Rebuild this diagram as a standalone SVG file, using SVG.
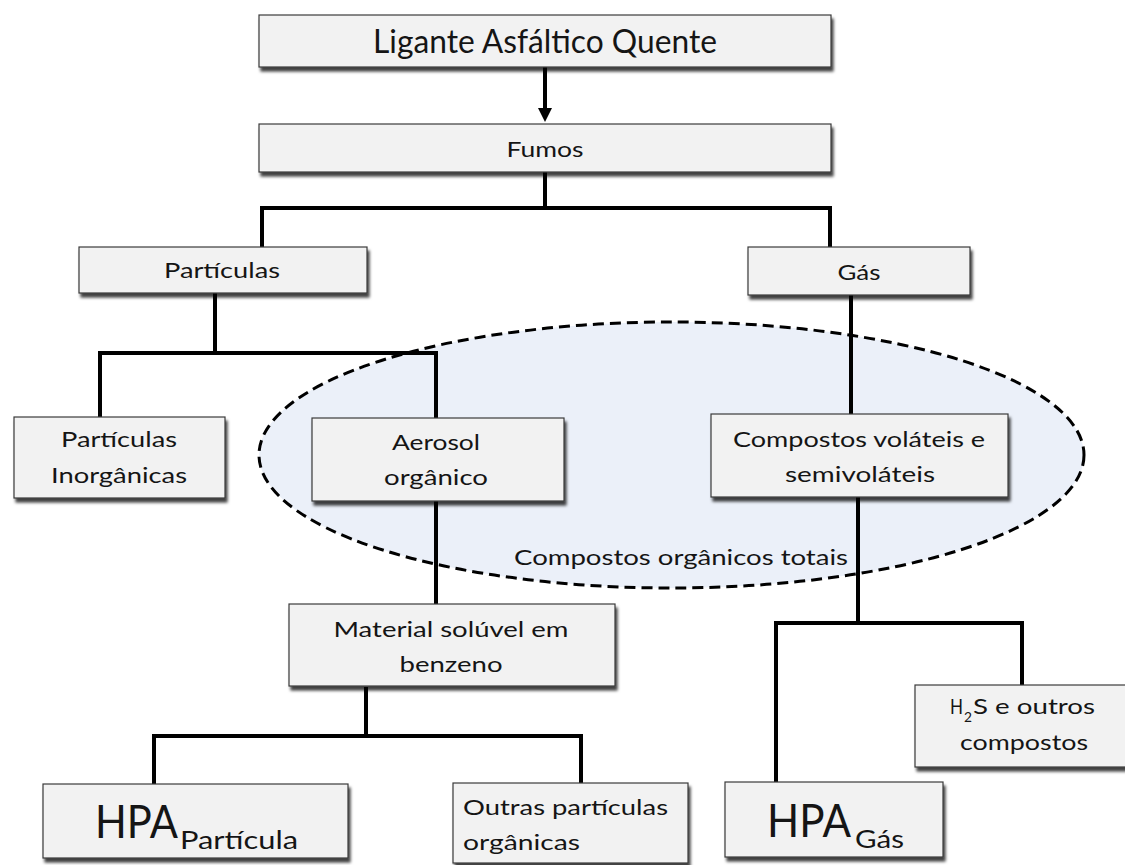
<svg xmlns="http://www.w3.org/2000/svg" width="1125" height="865" viewBox="0 0 1125 865">
<defs>
<filter id="sh" x="-10%" y="-20%" width="130%" height="160%">
<feDropShadow dx="2" dy="4" stdDeviation="1.8" flood-color="#000" flood-opacity="0.75"/>
</filter>
<marker id="ah" viewBox="0 0 14 14" refX="0" refY="7" markerWidth="14" markerHeight="14" markerUnits="userSpaceOnUse" orient="auto">
<path d="M0 0 L14 7 L0 14 Z" fill="#000"/>
</marker>
</defs>
<style>
.box{fill:#f2f2f2;stroke:#3a3a3a;stroke-width:1.2;filter:url(#sh)}
.t{font-family:Lato,"Open Sans","Liberation Sans",sans-serif;fill:#151515;text-anchor:middle;font-size:21px}
.s{text-anchor:start}
.c{fill:none;stroke:#000;stroke-width:4}
</style>
<rect width="1125" height="865" fill="#fff"/>
<g id="organicos">
<ellipse cx="671.5" cy="455" rx="412.5" ry="133" fill="#ebf0f9" stroke="#000" stroke-width="3" stroke-dasharray="11 6"/>
<text class="t" x="681" y="565" textLength="334" lengthAdjust="spacingAndGlyphs">Compostos orgânicos totais</text>
</g>
<g id="connectors">
<path class="c" d="M545 67 V108" marker-end="url(#ah)"/>
<path class="c" d="M545 172 V208 M262 247 V208 H830 V247"/>
<path class="c" d="M215 293 V353 M100 417 V353 H436 V418"/>
<path class="c" d="M851 295 V414"/>
<path class="c" d="M436 501 V604"/>
<path class="c" d="M858 497 V623 M776 782 V623 H1022 V685"/>
<path class="c" d="M366 687 V736 M154 784 V736 H581 V783"/>
</g>
<g id="ligante">
<rect class="box" x="259" y="15" width="572" height="52"/>
<text class="t" x="545" y="53" style="font-size:33px" textLength="344" lengthAdjust="spacingAndGlyphs">Ligante Asfáltico Quente</text>
</g>
<g id="fumos">
<rect class="box" x="259" y="124" width="572" height="48"/>
<text class="t" x="545" y="157" textLength="77" lengthAdjust="spacingAndGlyphs">Fumos</text>
</g>
<g id="particulas">
<rect class="box" x="79" y="247" width="288" height="46"/>
<text class="t" x="222" y="278" textLength="116" lengthAdjust="spacingAndGlyphs">Partículas</text>
</g>
<g id="gas">
<rect class="box" x="748" y="247" width="222" height="48"/>
<text class="t" x="859" y="280" textLength="43" lengthAdjust="spacingAndGlyphs">Gás</text>
</g>
<g id="inorganicas">
<rect class="box" x="14" y="417" width="211" height="81"/>
<text class="t" x="119" y="447" textLength="116" lengthAdjust="spacingAndGlyphs">Partículas</text>
<text class="t" x="119" y="483" textLength="136" lengthAdjust="spacingAndGlyphs">Inorgânicas</text>
</g>
<g id="aerosol">
<rect class="box" x="312" y="418" width="252" height="83"/>
<text class="t" x="436" y="450" textLength="88" lengthAdjust="spacingAndGlyphs">Aerosol</text>
<text class="t" x="436" y="485" textLength="104" lengthAdjust="spacingAndGlyphs">orgânico</text>
</g>
<g id="volateis">
<rect class="box" x="711" y="414" width="297" height="83"/>
<text class="t" x="859" y="447" textLength="252" lengthAdjust="spacingAndGlyphs">Compostos voláteis e</text>
<text class="t" x="860" y="482" textLength="150" lengthAdjust="spacingAndGlyphs">semivoláteis</text>
</g>
<g id="material">
<rect class="box" x="289" y="604" width="326" height="82"/>
<text class="t" x="451" y="637" textLength="235" lengthAdjust="spacingAndGlyphs">Material solúvel em</text>
<text class="t" x="451" y="672" textLength="103" lengthAdjust="spacingAndGlyphs">benzeno</text>
</g>
<g id="h2s">
<rect class="box" x="915" y="685" width="215" height="82"/>
<text class="t s" x="950" y="714" textLength="13" lengthAdjust="spacingAndGlyphs">H</text>
<text class="t s" x="964" y="722" style="font-size:14px" textLength="8" lengthAdjust="spacingAndGlyphs">2</text>
<text class="t s" x="973" y="714" textLength="122" lengthAdjust="spacingAndGlyphs">S e outros</text>
<text class="t" x="1024" y="750" textLength="128" lengthAdjust="spacingAndGlyphs">compostos</text>
</g>
<g id="hpa-particula">
<rect class="box" x="43" y="784" width="305" height="74"/>
<text class="t s" x="95" y="838" style="font-size:46px" textLength="83" lengthAdjust="spacingAndGlyphs">HPA</text>
<text class="t s" x="180" y="849" style="font-size:25px" textLength="118" lengthAdjust="spacingAndGlyphs">Partícula</text>
</g>
<g id="outras">
<rect class="box" x="453" y="783" width="235" height="80"/>
<text class="t s" x="463" y="815" textLength="205" lengthAdjust="spacingAndGlyphs">Outras partículas</text>
<text class="t s" x="463" y="850" textLength="117" lengthAdjust="spacingAndGlyphs">orgânicas</text>
</g>
<g id="hpa-gas">
<rect class="box" x="725" y="782" width="218" height="75"/>
<text class="t s" x="767" y="837" style="font-size:46px" textLength="84" lengthAdjust="spacingAndGlyphs">HPA</text>
<text class="t s" x="855" y="848" style="font-size:25px" textLength="49" lengthAdjust="spacingAndGlyphs">Gás</text>
</g>
</svg>
